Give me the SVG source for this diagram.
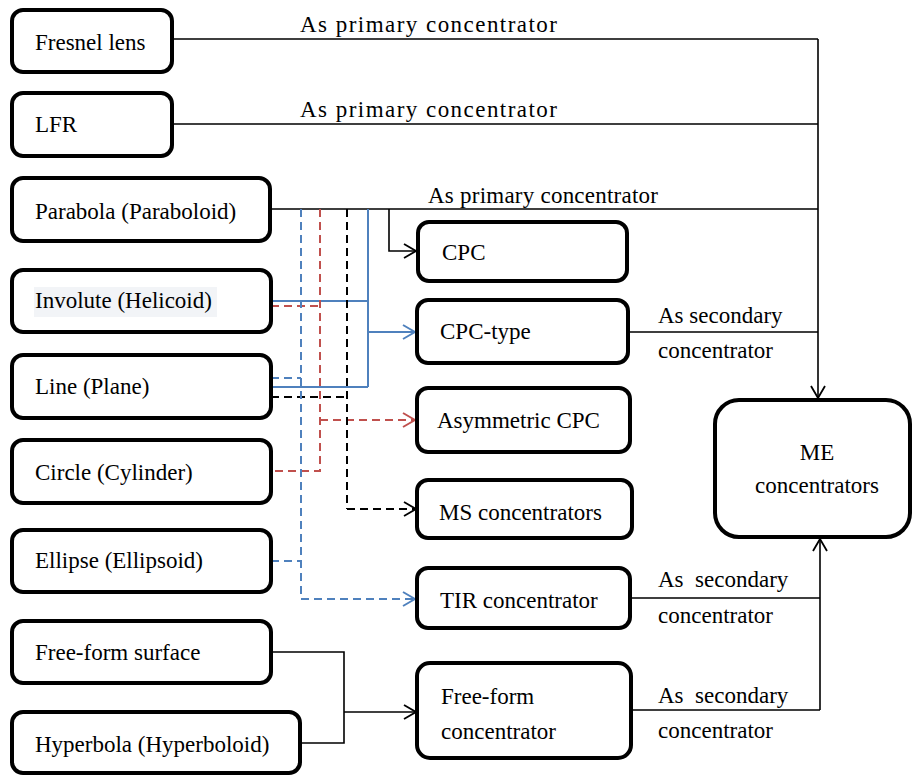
<svg xmlns="http://www.w3.org/2000/svg" width="912" height="775" viewBox="0 0 912 775">
<style>
.box{fill:#fff;stroke:#000;stroke-width:4}
text{font-family:'Liberation Serif','Times New Roman','DejaVu Serif',serif;font-size:23px;fill:#000}
.k{fill:none;stroke:#000;stroke-width:1.6}
.b{fill:none;stroke:#4f81bd;stroke-width:2}
.bd{fill:none;stroke:#4f81bd;stroke-width:2;stroke-dasharray:8 5}
.rd{fill:none;stroke:#c0504d;stroke-width:2;stroke-dasharray:8 5}
.kd{fill:none;stroke:#000;stroke-width:2;stroke-dasharray:8 5}
</style>
<defs>
<marker id="ak" markerWidth="14" markerHeight="16" refX="13" refY="8" orient="auto" markerUnits="userSpaceOnUse"><path d="M1,1 L13,8 L1,15" fill="none" stroke="#000" stroke-width="1.8"/></marker>
<marker id="ab" markerWidth="14" markerHeight="16" refX="13" refY="8" orient="auto" markerUnits="userSpaceOnUse"><path d="M1,1 L13,8 L1,15" fill="none" stroke="#4f81bd" stroke-width="2"/></marker>
<marker id="ar" markerWidth="14" markerHeight="16" refX="13" refY="8" orient="auto" markerUnits="userSpaceOnUse"><path d="M1,1 L13,8 L1,15" fill="none" stroke="#c0504d" stroke-width="2"/></marker>
</defs>

<g font-family="Liberation Serif, Times New Roman, serif" font-size="23">
<g id="connectors">
<path class="k" d="M172,39 H818 M172,124 H818 M270,209 H818 M628,332 H818"/>
<path class="k" d="M818,39 V398" marker-end="url(#ak)"/>
<path class="k" d="M389,209 V251 H416" marker-end="url(#ak)"/>
<path class="k" d="M630,598 H820 M631,710 H820"/>
<path class="k" d="M820,710 V539" marker-end="url(#ak)"/>
<path class="k" d="M271,652 H344 V743 H300"/>
<path class="k" d="M344,712 H416" marker-end="url(#ak)"/>
<path class="b" d="M368,209 V387 M271,301 H368 M271,387 H368"/>
<path class="b" d="M368,332 H415" marker-end="url(#ab)"/>
<path class="rd" d="M320,209 V471 H271 M271,306 H320"/>
<path class="rd" d="M320,420 H415" marker-end="url(#ar)"/>
<path class="kd" d="M347,209 V509 M271,397 H347"/>
<path class="kd" d="M347,509 H416" marker-end="url(#ak)"/>
<path class="bd" d="M301,209 V599 M271,378 H301 M271,561 H301"/>
<path class="bd" d="M301,599 H415" marker-end="url(#ab)"/>
<text x="300" y="32" textLength="257" lengthAdjust="spacing">As primary concentrator</text>
<text x="300" y="117" textLength="257" lengthAdjust="spacing">As primary concentrator</text>
<text x="428" y="203" textLength="230" lengthAdjust="spacing">As primary concentrator</text>
<text x="658" y="323">As secondary</text>
<text x="658" y="358">concentrator</text>
<text x="658" y="587" xml:space="preserve">As  secondary</text>
<text x="658" y="623">concentrator</text>
<text x="658" y="703" xml:space="preserve">As  secondary</text>
<text x="658" y="738">concentrator</text>
</g>

<g id="fresnel"><rect class="box" x="12" y="10" width="160" height="62" rx="11"/><text x="35" y="50">Fresnel lens</text></g>
<g id="lfr"><rect class="box" x="12" y="93" width="160" height="63" rx="11"/><text x="35" y="132">LFR</text></g>
<g id="parabola"><rect class="box" x="12" y="178" width="258" height="63" rx="11"/><text x="35" y="219">Parabola (Paraboloid)</text></g>
<g id="involute"><rect class="box" x="12" y="270" width="259" height="62" rx="11"/><rect x="34" y="287" width="183" height="30" fill="#f2f4f7"/><text x="35" y="308">Involute (Helicoid)</text></g>
<g id="line"><rect class="box" x="12" y="355" width="259" height="63" rx="11"/><text x="35" y="394">Line (Plane)</text></g>
<g id="circle"><rect class="box" x="12" y="440" width="259" height="63" rx="11"/><text x="35" y="480">Circle (Cylinder)</text></g>
<g id="ellipse"><rect class="box" x="12" y="530" width="259" height="62" rx="11"/><text x="35" y="568">Ellipse (Ellipsoid)</text></g>
<g id="freeform-surface"><rect class="box" x="12" y="621" width="259" height="62" rx="11"/><text x="35" y="660">Free-form surface</text></g>
<g id="hyperbola"><rect class="box" x="12" y="712" width="288" height="61" rx="11"/><text x="35" y="752">Hyperbola (Hyperboloid)</text></g>

<g id="cpc"><rect class="box" x="418" y="222" width="209" height="59" rx="11"/><text x="442" y="260">CPC</text></g>
<g id="cpc-type"><rect class="box" x="417" y="300" width="211" height="63" rx="11"/><text x="440" y="339">CPC-type</text></g>
<g id="asym-cpc"><rect class="box" x="417" y="388" width="213" height="64" rx="11"/><text x="437" y="428">Asymmetric CPC</text></g>
<g id="ms"><rect class="box" x="417" y="480" width="215" height="58" rx="11"/><text x="439" y="520">MS concentrators</text></g>
<g id="tir"><rect class="box" x="417" y="568" width="213" height="60" rx="11"/><text x="440" y="608">TIR concentrator</text></g>
<g id="freeform-conc"><rect class="box" x="417" y="663" width="214" height="95" rx="13"/><text x="441" y="704">Free-form</text><text x="441" y="739">concentrator</text></g>
<g id="me"><rect class="box" x="715" y="400" width="195" height="137" rx="24"/><text x="817" y="460" text-anchor="middle">ME</text><text x="817" y="493" text-anchor="middle">concentrators</text></g>
</g>
</svg>
